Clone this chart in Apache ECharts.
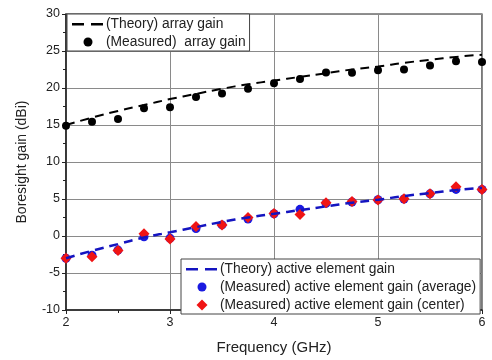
<!DOCTYPE html>
<html>
<head>
<meta charset="utf-8">
<script src="https://cdn.jsdelivr.net/npm/echarts@6/dist/echarts.min.js"></script>
<style>
  html, body { margin: 0; padding: 0; background: #fff; }
  #chart { width: 492px; height: 360px; }
</style>
</head>
<body>
<div id="chart"></div>
<script>
// Frequency sweep, GHz
const freq = [2, 2.25, 2.5, 2.75, 3, 3.25, 3.5, 3.75, 4, 4.25, 4.5, 4.75, 5, 5.25, 5.5, 5.75, 6];

// Array gain (dBi)
const arrayTheory   = [15.0, 16.0, 16.9, 17.7, 18.5, 19.2, 19.9, 20.5, 21.0, 21.5, 22.0, 22.5, 22.9, 23.4, 23.8, 24.2, 24.5];
const arrayMeasured = [14.9, 15.45, 15.8, 17.25, 17.4, 18.8, 19.25, 19.9, 20.65, 21.2, 22.1, 22.05, 22.4, 22.5, 23.05, 23.6, 23.5];

// Active element gain (dBi)
const activeTheory  = [-3.0, -2.0, -1.1, -0.2, 0.5, 1.2, 1.9, 2.5, 3.0, 3.5, 4.0, 4.5, 4.9, 5.4, 5.8, 6.2, 6.5];
const activeAverage = [-3.0, -2.6, -1.9, -0.1, -0.3, 1.0, 1.5, 2.3, 3.0, 3.6, 4.4, 4.6, 4.9, 5.0, 5.7, 6.3, 6.3];
const activeCenter  = [-3.0, -2.8, -1.95, 0.3, -0.4, 1.3, 1.5, 2.5, 3.05, 2.9, 4.5, 4.65, 4.87, 5.05, 5.7, 6.65, 6.3];

// Axis ticks
const xTicks = [2, 3, 4, 5, 6];
const yTicks = [-10, -5, 0, 5, 10, 15, 20, 25, 30];

const names = {
  arrTh: '(Theory) array gain',
  arrMe: '(Measured)  array gain',
  actTh: '(Theory) active element gain',
  actAv: '(Measured) active element gain (average)',
  actCe: '(Measured) active element gain (center)'
};

// Legend glyphs on a fixed 34x12 box so they are not stretched
const BOX = 'M0,0 M34,12 ';
const ICON_DASH = 'path://' + BOX + 'M1,5H13V7.5H1Z M20,5H32V7.5H20Z';
const ICON_DOT = 'path://' + BOX + 'M12.5,6 a4.5,4.5 0 1,0 9,0 a4.5,4.5 0 1,0 -9,0Z';
const ICON_DIAMOND = 'path://' + BOX + 'M17,0.5 L22.5,6 L17,11.5 L11.5,6Z';

const pairs = (ys) => freq.map((f, i) => [f, ys[i]]);
const FONT = 'Liberation Sans';

const legendBase = {
  orient: 'vertical',
  itemWidth: 34, itemHeight: 12, itemGap: 4,
  padding: [3, 4, 2, 4],
  backgroundColor: '#fff', borderColor: '#444', borderWidth: 1, borderRadius: 0,
  itemStyle: { opacity: 1 },
  textStyle: { fontSize: 13.8, color: '#222', fontFamily: FONT, padding: [0, 0, 0, -4] }
};

const chart = echarts.init(document.getElementById('chart'), null, { renderer: 'canvas' });

chart.setOption({
  animation: false,
  backgroundColor: '#fff',
  textStyle: { fontFamily: FONT },
  grid: {
    left: 66, right: 10, top: 14, bottom: 47,
    show: true, borderColor: '#222', borderWidth: 1.2
  },
  xAxis: {
    type: 'value',
    min: xTicks[0], max: xTicks[xTicks.length - 1], interval: 1,
    name: 'Frequency (GHz)', nameLocation: 'middle', nameGap: 30,
    nameTextStyle: { fontSize: 15, color: '#222', fontFamily: FONT },
    axisLine: { show: true, onZero: false, lineStyle: { color: '#222', width: 1.5 } },
    axisTick: { show: true, length: 4, lineStyle: { color: '#222' } },
    minorTick: { show: true, splitNumber: 2, length: 3, lineStyle: { color: '#222' } },
    axisLabel: { fontSize: 12.5, color: '#222', margin: 6, fontFamily: FONT },
    splitLine: { show: true, lineStyle: { color: '#8a8a8a', width: 1 } }
  },
  yAxis: {
    type: 'value',
    min: yTicks[0], max: yTicks[yTicks.length - 1], interval: 5,
    name: 'Boresight gain (dBi)', nameLocation: 'middle', nameGap: 37,
    nameTextStyle: { fontSize: 14, color: '#222', fontFamily: FONT },
    axisLine: { show: true, onZero: false, lineStyle: { color: '#222', width: 1.5 } },
    axisTick: { show: true, length: 4, lineStyle: { color: '#222' } },
    minorTick: { show: true, splitNumber: 2, length: 3, lineStyle: { color: '#222' } },
    axisLabel: { fontSize: 12.5, color: '#222', margin: 6, fontFamily: FONT },
    splitLine: { show: true, lineStyle: { color: '#8a8a8a', width: 1 } }
  },
  legend: [
    Object.assign({}, legendBase, {
      left: 67, top: 14,
      data: [
        { name: names.arrTh, icon: ICON_DASH },
        { name: names.arrMe, icon: ICON_DOT }
      ]
    }),
    Object.assign({}, legendBase, {
      left: 181, top: 259,
      data: [
        { name: names.actTh, icon: ICON_DASH },
        { name: names.actAv, icon: ICON_DOT },
        { name: names.actCe, icon: ICON_DIAMOND }
      ]
    })
  ],
  series: [
    {
      name: names.arrMe, type: 'scatter', data: pairs(arrayMeasured),
      symbol: 'circle', symbolSize: 8,
      itemStyle: { color: '#000', opacity: 1 }
    },
    {
      name: names.arrTh, type: 'line', data: pairs(arrayTheory),
      showSymbol: false, symbol: 'none', smooth: true,
      lineStyle: { color: '#000', width: 2, type: [9, 6] },
      itemStyle: { color: '#000' }
    },
    {
      name: names.actTh, type: 'line', data: pairs(activeTheory),
      showSymbol: false, symbol: 'none', smooth: true,
      lineStyle: { color: '#1414c0', width: 2.5, type: [9, 6] },
      itemStyle: { color: '#1414c0' }
    },
    {
      name: names.actAv, type: 'scatter', data: pairs(activeAverage),
      symbol: 'circle', symbolSize: 9,
      itemStyle: { color: '#1a1ae0', opacity: 1 }
    },
    {
      name: names.actCe, type: 'scatter', data: pairs(activeCenter),
      symbol: 'diamond', symbolSize: 11,
      itemStyle: { color: '#f01414', opacity: 1 }
    }
  ]
});
</script>
</body>
</html>
